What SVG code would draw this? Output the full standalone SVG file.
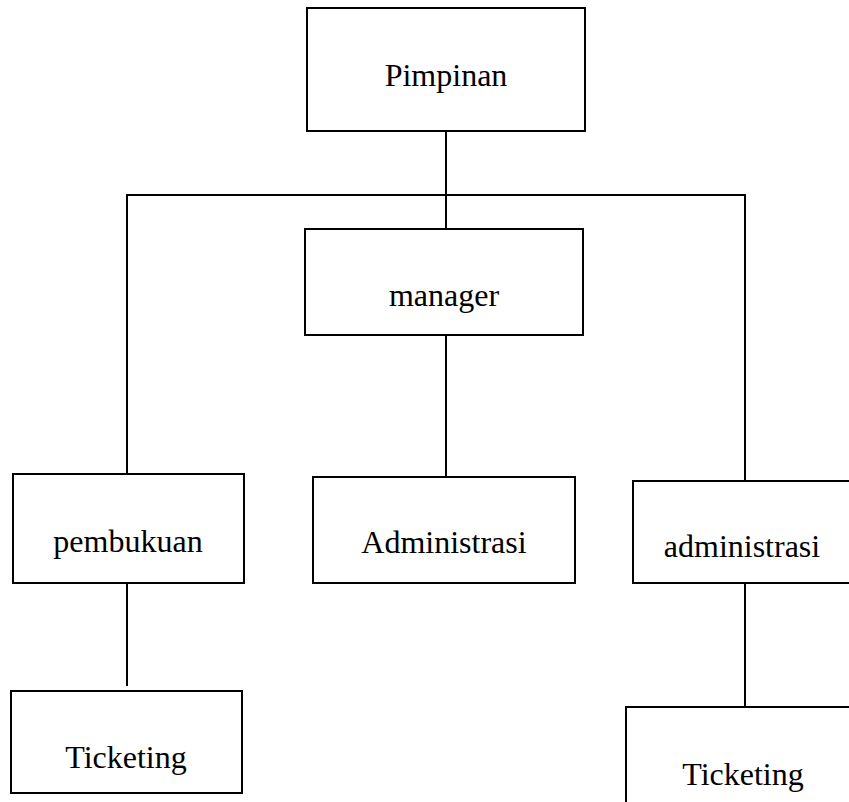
<svg xmlns="http://www.w3.org/2000/svg" width="849" height="802" viewBox="0 0 849 802">
<style>
.box{fill:#fff;stroke:#000;stroke-width:2}
.lbl{font-family:"Liberation Serif","Times New Roman",serif;font-size:32px;fill:#000;text-anchor:middle}
.con{fill:none;stroke:#000;stroke-width:2}
</style>
<rect width="849" height="802" fill="#fff"/>
<g id="connectors">
<path class="con" d="M446 131V229"/>
<path class="con" d="M127 474V195H745V481"/>
<path class="con" d="M446 335V477"/>
<path class="con" d="M127 583V686"/>
<path class="con" d="M745 583V707"/>
</g>
<g id="pimpinan"><rect class="box" x="307" y="8" width="278" height="123"/><text class="lbl" x="446" y="86">Pimpinan</text></g>
<g id="manager"><rect class="box" x="305" y="229" width="278" height="106"/><text class="lbl" x="444" y="306">manager</text></g>
<g id="pembukuan"><rect class="box" x="13" y="474" width="231" height="109"/><text class="lbl" x="128" y="552">pembukuan</text></g>
<g id="Administrasi"><rect class="box" x="313" y="477" width="262" height="106"/><text class="lbl" x="444" y="553">Administrasi</text></g>
<g id="administrasi"><rect class="box" x="633" y="481" width="230" height="102"/><text class="lbl" x="742" y="557">administrasi</text></g>
<g id="ticketing1"><rect class="box" x="11" y="691" width="231" height="102"/><text class="lbl" x="126" y="768">Ticketing</text></g>
<g id="ticketing2"><rect class="box" x="626" y="707" width="240" height="110"/><text class="lbl" x="743" y="785">Ticketing</text></g>
</svg>
